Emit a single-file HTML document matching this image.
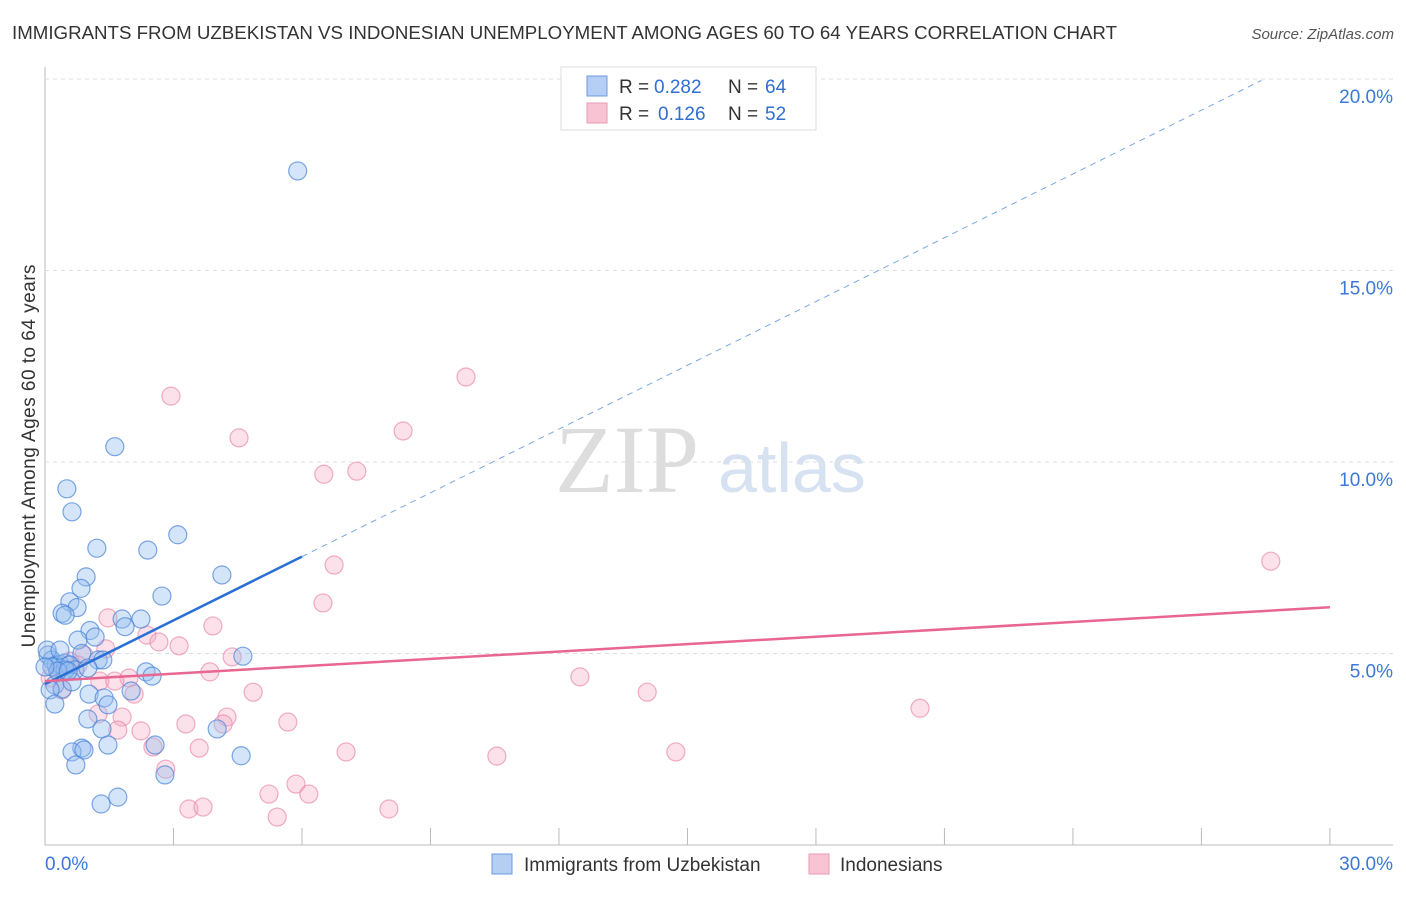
<!DOCTYPE html>
<html><head><meta charset="utf-8"><style>
body{margin:0;background:#fff;font-family:"Liberation Sans",sans-serif;}
#wrap{position:relative;width:1406px;height:892px;}
</style></head><body>
<div id="wrap">
<svg id="svg" width="1406" height="892" xmlns="http://www.w3.org/2000/svg">
<text x="12" y="39" font-size="18" fill="#333" textLength="1105" lengthAdjust="spacingAndGlyphs">IMMIGRANTS FROM UZBEKISTAN VS INDONESIAN UNEMPLOYMENT AMONG AGES 60 TO 64 YEARS CORRELATION CHART</text>
<text x="1394" y="39" font-size="15" fill="#555" font-style="italic" text-anchor="end">Source: ZipAtlas.com</text>
<text x="35" y="456" font-size="19" fill="#333" text-anchor="middle" textLength="383" transform="rotate(-90 35 456)">Unemployment Among Ages 60 to 64 years</text>
<text x="555" y="492" font-size="96" fill="#ddd" font-family="Liberation Serif,serif">ZIP</text>
<text x="718" y="492" font-size="70" fill="#d6e2f2">atlas</text>
<g id="grid"></g><g id="marks"></g>
<g>
<rect x="561" y="67" width="255" height="63" fill="#fff" stroke="#ddd"/>
<rect x="587" y="76" width="20" height="20" fill="#b5cef3" stroke="#6b9be0"/>
<rect x="587" y="103" width="20" height="20" fill="#f8c4d3" stroke="#e89ab2"/>
<text x="619" y="93" font-size="19" fill="#333">R =</text>
<text x="654" y="93" font-size="19" fill="#2f6fd0">0.282</text>
<text x="728" y="93" font-size="19" fill="#333">N =</text>
<text x="765" y="93" font-size="19" fill="#2f6fd0">64</text>
<text x="619" y="120" font-size="19" fill="#333">R =</text>
<text x="658" y="120" font-size="19" fill="#2f6fd0">0.126</text>
<text x="728" y="120" font-size="19" fill="#333">N =</text>
<text x="765" y="120" font-size="19" fill="#2f6fd0">52</text>
</g>
<g>
<rect x="492" y="854" width="20" height="20" fill="#b5cef3" stroke="#6b9be0"/>
<text x="524" y="871" font-size="19" fill="#333">Immigrants from Uzbekistan</text>
<rect x="809" y="854" width="20" height="20" fill="#f8c4d3" stroke="#e89ab2"/>
<text x="840" y="871" font-size="19" fill="#333">Indonesians</text>
</g>
</svg></div>
<script>
const xTickLabels=["0.0%","30.0%"];
const yTicks=[5,10,15,20];
const blueX=[5.9,1.63,0.51,0.63,1.21,2.4,3.1,0.96,4.13,0.84,0.58,0.75,0.4,0.47,2.73,1.8,2.24,1.87,1.05,0.77,1.17,0.86,4.62,1.24,1.35,2.36,2.5,0.07,0.16,0.26,0.35,0.47,0.58,0.7,1.0,0.23,0.4,0.63,0.12,1.03,1.38,2.01,1.47,0.23,1.0,1.33,4.02,0.86,0.63,0.91,1.47,2.57,4.58,0.72,2.8,1.31,1.7,0.05,0.35,0.47,0.16,0.3,0.0,0.54];
const blueY=[17.6,10.4,9.3,8.7,7.75,7.7,8.1,7.0,7.05,6.7,6.35,6.2,6.05,6.0,6.5,5.9,5.9,5.7,5.6,5.35,5.43,5.0,4.93,4.83,4.83,4.52,4.41,4.96,4.83,4.7,4.72,4.75,4.7,4.57,4.62,4.18,4.07,4.26,4.05,3.94,3.84,4.02,3.66,3.68,3.29,3.03,3.03,2.53,2.43,2.48,2.61,2.61,2.33,2.09,1.83,1.07,1.25,5.09,5.09,4.57,4.65,4.54,4.65,4.54];
const pinkX=[9.83,2.94,4.53,8.36,6.51,7.28,28.62,6.75,6.49,1.47,3.92,2.38,2.66,3.13,1.42,4.37,0.91,3.85,1.96,12.49,4.86,14.06,2.08,20.43,1.24,1.8,4.25,2.24,3.29,5.67,4.16,1.7,2.52,3.6,7.03,10.55,14.73,2.82,5.23,5.86,6.16,3.36,3.69,8.03,5.42,0.4,0.12,0.77,0.58,1.28,1.63,0.3];
const pinkY=[12.22,11.72,10.63,10.81,9.68,9.76,7.41,7.31,6.32,5.93,5.72,5.48,5.3,5.2,5.12,4.91,4.96,4.52,4.36,4.39,3.99,3.99,3.94,3.57,3.42,3.34,3.34,2.98,3.16,3.21,3.16,3.0,2.56,2.53,2.43,2.32,2.43,1.98,1.33,1.59,1.33,0.94,0.99,0.94,0.73,4.05,4.36,4.7,4.8,4.28,4.28,4.54];
const blueTrend=[4.2,0.555];
const pinkTrend=[4.28,0.0643];
const NS="http://www.w3.org/2000/svg";
const X=v=>45+v*42.83, Y=v=>845-v*38.3;
function mk(t,a,p){const e=document.createElementNS(NS,t);for(const k in a)e.setAttribute(k,a[k]);p.appendChild(e);return e;}
const grid=document.getElementById('grid'), marks=document.getElementById('marks');
mk('line',{x1:45,y1:67,x2:45,y2:845,stroke:'#bbb'},grid);
mk('line',{x1:45,y1:845,x2:1393,y2:845,stroke:'#bbb'},grid);
for(const t of yTicks){
 const l=mk('line',{x1:45,y1:Y(t),x2:1393,y2:Y(t),stroke:'#ddd','stroke-dasharray':'4,4'},grid);
 
 
 const tx=mk('text',{x:1393,y:Y(t)+24,'font-size':19,fill:'#3b78d8','text-anchor':'end'},grid);
 tx.textContent=t.toFixed(1)+'%';
 
 
}
for(let i=1;i<=10;i++){const l=mk('line',{x1:X(i*3),y1:828,x2:X(i*3),y2:845,stroke:'#bbb'},grid);
 
 }
const xl0=mk('text',{x:45,y:870,'font-size':19,fill:'#3b78d8'},grid);xl0.textContent=xTickLabels[0];


const xl1=mk('text',{x:1393,y:870,'font-size':19,fill:'#3b78d8','text-anchor':'end'},grid);xl1.textContent=xTickLabels[1];


for(let i=0;i<pinkX.length;i++){const c=mk('circle',{cx:X(pinkX[i]),cy:Y(pinkY[i]),r:9,fill:'rgba(245,170,195,0.35)',stroke:'rgba(232,130,165,0.65)','stroke-width':1.2},marks);
 
 }
for(let i=0;i<blueX.length;i++){const c=mk('circle',{cx:X(blueX[i]),cy:Y(blueY[i]),r:9,fill:'rgba(150,190,240,0.4)',stroke:'rgba(70,130,215,0.7)','stroke-width':1.2},marks);
 
 }
const bEnd=6.0, bFar=28.4;
const bl=mk('line',{x1:X(0),y1:Y(blueTrend[0]),x2:X(bEnd),y2:Y(blueTrend[0]+blueTrend[1]*bEnd),stroke:'#2a6fd6','stroke-width':2.5},marks);


const bd=mk('line',{x1:X(bEnd),y1:Y(blueTrend[0]+blueTrend[1]*bEnd),x2:X(bFar),y2:Y(blueTrend[0]+blueTrend[1]*bFar),stroke:'#7aa7e6','stroke-width':1,'stroke-dasharray':'6,5'},marks);


const pl=mk('line',{x1:X(0),y1:Y(pinkTrend[0]),x2:X(30),y2:Y(pinkTrend[0]+pinkTrend[1]*30),stroke:'#e8668f','stroke-width':2.5},marks);


</script></body></html>
